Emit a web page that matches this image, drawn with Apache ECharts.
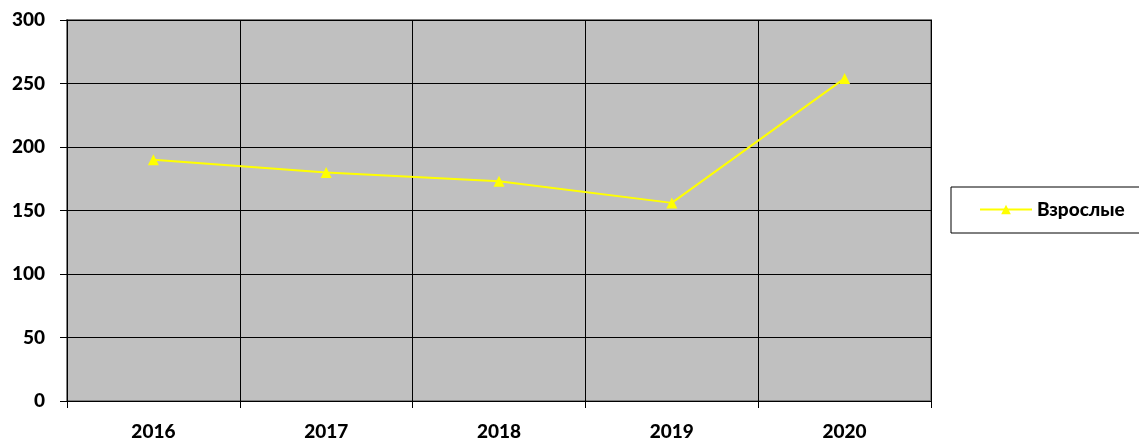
<!DOCTYPE html>
<html>
<head>
<meta charset="utf-8">
<script src="https://cdn.jsdelivr.net/npm/echarts@6/dist/echarts.min.js"></script>
<style>
  html, body { margin: 0; padding: 0; background: #fff; }
  #chart { width: 1139px; height: 441px; }
</style>
</head>
<body>
<div id="chart"></div>
<script>
// данные графика
const years = ['2016', '2017', '2018', '2019', '2020']
const adults = [190, 180, 173, 156, 254]
const seriesName = 'Взрослые'

const chart = echarts.init(document.getElementById('chart'))

const labelFont = {
  fontFamily: 'Lato, "Open Sans", sans-serif',
  fontWeight: 900,
  fontSize: 19,
  color: '#000'
}

chart.setOption({
  backgroundColor: '#fff',
  animation: false,
  grid: {
    left: 67,
    right: 208,
    top: 20,
    bottom: 39,
    show: true,
    backgroundColor: '#C0C0C0',
    borderColor: '#808080',
    borderWidth: 2
  },
  legend: {
    data: [seriesName],
    left: 951,
    top: 187,
    padding: [13, 30, 14, 28],
    borderColor: '#000',
    borderWidth: 1,
    itemWidth: 52,
    itemHeight: 12,
    itemGap: 6,
    textStyle: {
      fontFamily: 'Lato, "Open Sans", sans-serif',
      fontWeight: 900,
      fontSize: 19,
      color: '#000'
    }
  },
  xAxis: {
    type: 'category',
    data: years,
    boundaryGap: true,
    axisLine: { show: true, lineStyle: { color: '#000', width: 1 } },
    axisTick: { show: true, length: 7, lineStyle: { color: '#000' } },
    axisLabel: Object.assign({ margin: 21 }, labelFont),
    splitLine: { show: true, lineStyle: { color: '#000', width: 1 } }
  },
  yAxis: {
    type: 'value',
    min: 0,
    max: 300,
    interval: 50,
    axisLine: { show: true, lineStyle: { color: '#000', width: 1 } },
    axisTick: { show: true, length: 7, lineStyle: { color: '#000' } },
    axisLabel: Object.assign({ margin: 22 }, labelFont),
    splitLine: { show: true, lineStyle: { color: '#000', width: 1 } }
  },
  series: [
    {
      name: seriesName,
      type: 'line',
      data: adults,
      symbol: 'triangle',
      symbolSize: 11,
      itemStyle: { color: '#FFFF00' },
      lineStyle: { color: '#FFFF00', width: 2 }
    }
  ]
})
</script>
</body>
</html>
